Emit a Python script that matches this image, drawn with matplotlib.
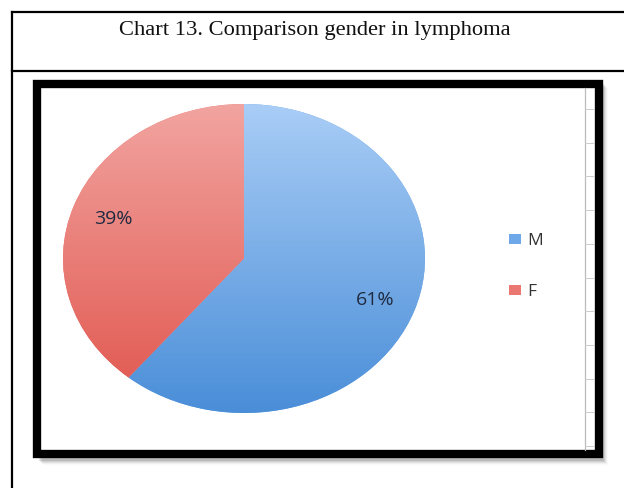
import numpy as np
import matplotlib
matplotlib.use("Agg")
import matplotlib.pyplot as plt
from matplotlib.patches import Rectangle
from matplotlib.lines import Line2D

title = "Chart 13. Comparison gender in lymphoma"
labels = ["M", "F"]
values = [61, 39]
top_colors = ["#a9cdf6", "#f2a4a0"]
bottom_colors = ["#4a8ed8", "#e0554d"]
base_colors = ["#6ea8e8", "#ea7771"]

W, H = 624, 489
fig = plt.figure(figsize=(W / 100, H / 100), dpi=100)

def fx(x):
    return x / W

def fy(y):
    return 1 - y / H

# table borders
fig.add_artist(Line2D([fx(12), fx(624)], [fy(13), fy(13)], color="black", lw=1.6, transform=fig.transFigure))
fig.add_artist(Line2D([fx(12), fx(624)], [fy(72), fy(72)], color="black", lw=1.6, transform=fig.transFigure))
fig.add_artist(Line2D([fx(12), fx(12)], [fy(13), fy(489)], color="black", lw=1.6, transform=fig.transFigure))

fig.text(fx(315), fy(31), title, ha="center", va="center",
         fontfamily="Liberation Serif", fontsize=16.2, color="#111111")

# shadow of frame
for i, a in enumerate([0.10, 0.08, 0.06, 0.04, 0.02]):
    d = 2 + i
    fig.add_artist(Rectangle((fx(37 + d), fy(460 + d)), fx(602 - 37), (458 - 81) / H,
                             facecolor="#000000", alpha=a, edgecolor="none",
                             transform=fig.transFigure))
# thick frame
fig.add_artist(Rectangle((fx(37), fy(454.5)), fx(598.5 - 37), (454.5 - 85) / H,
                         facecolor="white", edgecolor="black", lw=6,
                         transform=fig.transFigure, zorder=1))

# faint gray gridline at right with ticks
fig.add_artist(Line2D([fx(585), fx(585)], [fy(89), fy(451)], color="#bbbbbb", lw=0.9,
                      transform=fig.transFigure, zorder=2))
for ty in np.arange(110, 451, 33.7):
    fig.add_artist(Line2D([fx(585), fx(594)], [fy(ty), fy(ty)], color="#cccccc", lw=0.7,
                          transform=fig.transFigure, zorder=2))

# pie axes
ax = fig.add_axes([fx(63), fy(414), (425 - 63) / W, (414 - 105) / H])
ax.set_zorder(3)
wedges, texts, autotexts = ax.pie(values, startangle=90, counterclock=False,
                                  colors=base_colors, autopct="%1.0f%%",
                                  pctdistance=0.77, radius=1,
                                  textprops=dict(fontsize=14, color="#1f2a40",
                                                 family="Open Sans"))
ax.set_xlim(-1, 1)
ax.set_ylim(-1, 1)
ax.set_aspect("auto")
ax.axis("off")

# vertical gradients clipped to wedges
ny = 256
for w, tc, bc in zip(wedges, top_colors, bottom_colors):
    t = matplotlib.colors.to_rgb(tc)
    b = matplotlib.colors.to_rgb(bc)
    frac = np.linspace(0, 1, ny)[:, None]
    img = (np.array(t)[None, :] * (1 - frac) + np.array(b)[None, :] * frac)[:, None, :]
    im = ax.imshow(img, extent=[-1, 1, -1, 1], origin="upper", aspect="auto", zorder=1.5)
    im.set_clip_path(w)
for t in autotexts:
    t.set_zorder(4)
ax.set_xlim(-1, 1)
ax.set_ylim(-1, 1)

# legend
leg_y = [240, 291]
for lab, col, yy in zip(labels, base_colors, leg_y):
    fig.add_artist(Rectangle((fx(509), fy(yy + 5)), fx(12), 10 / H, facecolor=col,
                             edgecolor="none", transform=fig.transFigure, zorder=5))
    fig.text(fx(527), fy(yy + 1), lab, ha="left", va="center", fontsize=12.5,
             family="Open Sans", color="#333333", zorder=5)

fig.savefig("out.png", dpi=100)
